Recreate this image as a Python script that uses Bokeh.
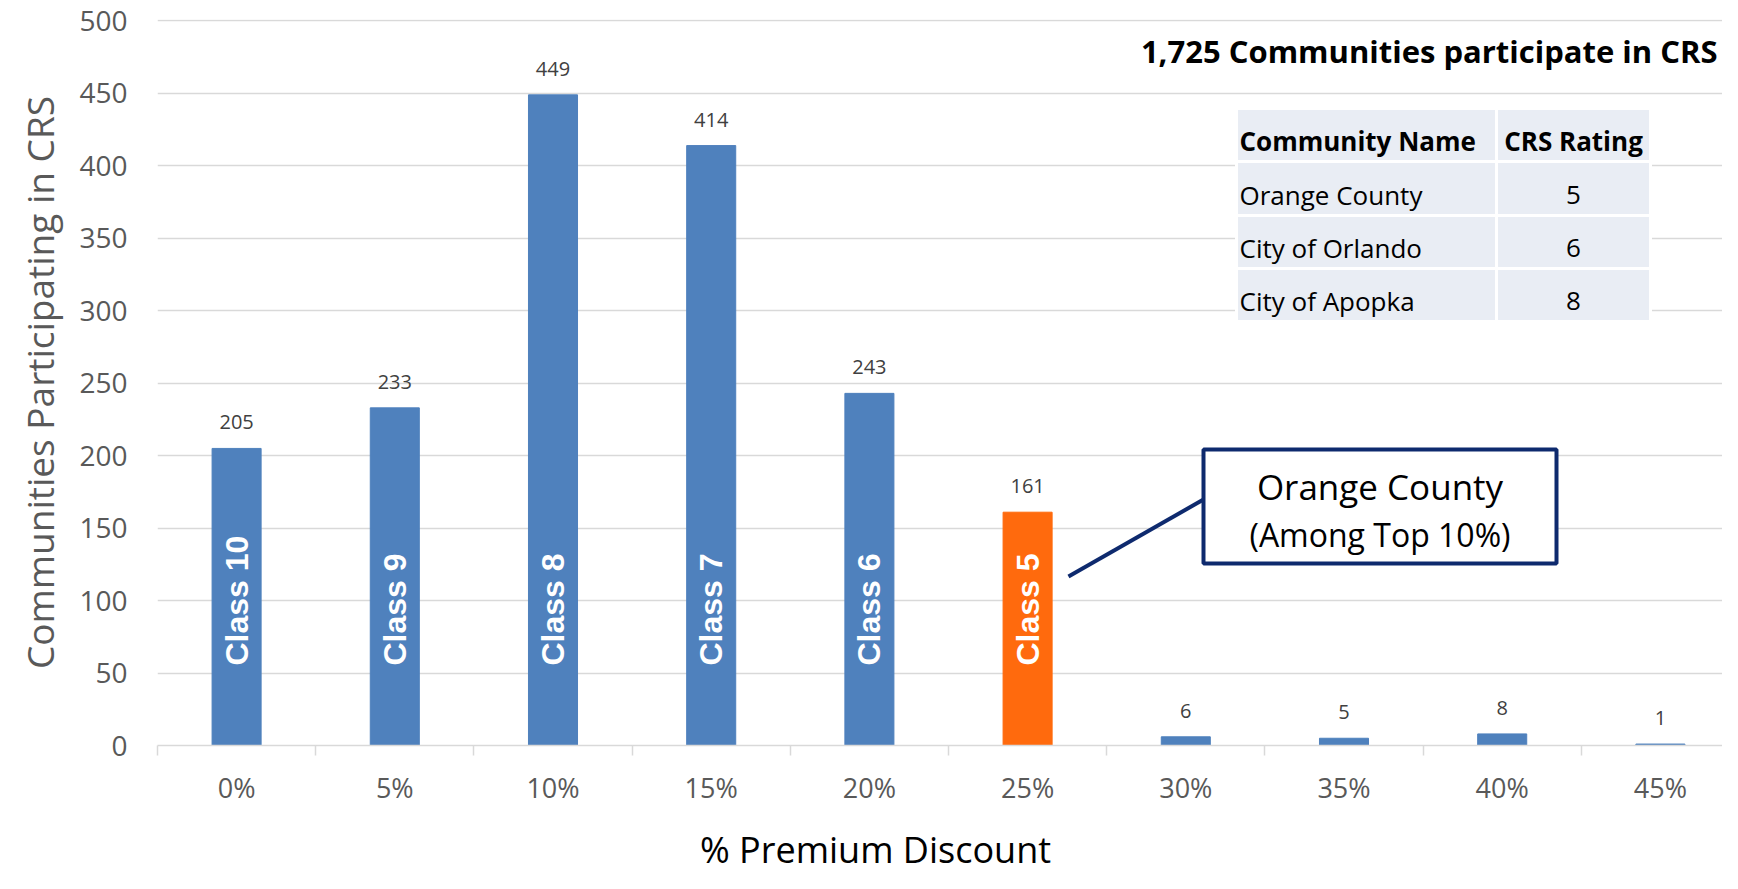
from bokeh.plotting import figure
from bokeh.layouts import column
from bokeh.models import FixedTicker, Label, Range1d, ColumnDataSource
from bokeh.core.properties import value
from bokeh.embed import file_html
from bokeh.resources import INLINE
import math

# ---------------- data ----------------
categories = ["0%", "5%", "10%", "15%", "20%", "25%", "30%", "35%", "40%", "45%"]
communities = [205, 233, 449, 414, 243, 161, 6, 5, 8, 1]
class_labels = ["Class 10", "Class 9", "Class 8", "Class 7", "Class 6", "Class 5"]
highlight_index = 5  # Orange County's class (Class 5, 25%)
y_ticks = [0, 50, 100, 150, 200, 250, 300, 350, 400, 450, 500]

table_header = ["Community Name", "CRS Rating"]
table_names = ["Orange County", "City of Orlando", "City of Apopka"]
table_ratings = ["5", "6", "8"]

title_text = "1,725 Communities participate in CRS"
callout_title = "Orange County"
callout_sub = "(Among Top 10%)"
x_title = "% Premium Discount"
y_title = "Communities Participating in CRS"

# ---------------- styles / layout ----------------
BLUE = "#4F81BD"
ORANGE = "#FF6A0D"
GRID = "#D9D9D9"
AXIS_TEXT = "#595959"
NAVY = "#0E2A6E"
TABLE_BG = "#E9EDF4"
FONT = "Open Sans"

W, H = 1722, 873
MAIN_H = 815                      # main chart figure height
FOOT_H = H - MAIN_H               # strip below that holds the x title
FRAME_L, FRAME_T, FRAME_BOTTOM_PX = 157, 19, 745
FRAME_B = MAIN_H - FRAME_BOTTOM_PX
PX_PER_CAT = 158.2
Y_END = 501
frame_w = W - FRAME_L
frame_h = FRAME_BOTTOM_PX - FRAME_T
X0 = -0.5
X1 = X0 + frame_w / PX_PER_CAT
TXT_SHIFT = 12                    # alphabetic-baseline correction (px)

# helpers converting layout pixel positions to data units
def px_x(px):
    return X0 + (px - FRAME_L) / PX_PER_CAT

def px_y(py):
    return (FRAME_BOTTOM_PX - py) / frame_h * Y_END

p = figure(width=W, height=MAIN_H, x_range=Range1d(X0, X1), y_range=Range1d(0, Y_END),
           output_backend="svg", toolbar_location=None,
           min_border_left=FRAME_L, min_border_right=0,
           min_border_top=FRAME_T, min_border_bottom=FRAME_B)
p.outline_line_color = None
p.background_fill_color = "white"
p.border_fill_color = "white"

# grid
p.xgrid.grid_line_color = None
p.ygrid.grid_line_color = GRID
p.ygrid.grid_line_width = 1.5
p.ygrid.ticker = FixedTicker(ticks=y_ticks)

# y axis
p.yaxis.ticker = FixedTicker(ticks=y_ticks)
p.yaxis.axis_line_color = None
p.yaxis.major_tick_line_color = None
p.yaxis.minor_tick_line_color = None
p.yaxis.major_tick_out = 0
p.yaxis.major_label_text_font = FONT
p.yaxis.major_label_text_font_size = "28px"
p.yaxis.major_label_text_color = AXIS_TEXT
p.yaxis.major_label_standoff = 30
p.yaxis.axis_label = y_title
p.yaxis.axis_label_text_font = FONT
p.yaxis.axis_label_text_font_size = "37px"
p.yaxis.axis_label_text_font_style = "normal"
p.yaxis.axis_label_text_color = AXIS_TEXT
p.yaxis.axis_label_standoff = 11

# x axis
idx = list(range(len(categories)))
p.xaxis.ticker = FixedTicker(ticks=idx, minor_ticks=[i - 0.5 for i in range(len(categories) + 1)])
p.xaxis.major_label_overrides = {i: c for i, c in zip(idx, categories)}
p.xaxis.axis_line_color = GRID
p.xaxis.axis_line_width = 1.5
p.xaxis.major_tick_line_color = None
p.xaxis.major_tick_out = 0
p.xaxis.major_tick_in = 0
p.xaxis.minor_tick_line_color = GRID
p.xaxis.minor_tick_line_width = 1.5
p.xaxis.minor_tick_out = 10
p.xaxis.minor_tick_in = 0
p.xaxis.major_label_text_font = FONT
p.xaxis.major_label_text_font_size = "27px"
p.xaxis.major_label_text_color = AXIS_TEXT
p.xaxis.major_label_standoff = 13

# bars
colors = [ORANGE if i == highlight_index else BLUE for i in idx]
src = ColumnDataSource(dict(x=idx, top=communities, color=colors,
                            lbl=[str(v) for v in communities]))
p.vbar(x="x", top="top", width=0.31, color="color", source=src)

# value labels above bars
p.text(x="x", y="top", text="lbl", source=src, text_align="center",
       text_baseline="middle", y_offset=-26, text_font=value(FONT),
       text_font_size="20px", text_color="#404040")

# class labels inside bars (rotated)
csrc = ColumnDataSource(dict(x=idx[:len(class_labels)], y=[0] * len(class_labels), t=class_labels))
p.text(x="x", y="y", text="t", source=csrc, angle=math.pi / 2, text_align="left",
       text_baseline="middle", y_offset=-80, text_font=value("Liberation Sans"),
       text_font_style="bold", text_font_size="32px", text_color="white")

# title inside plot, top right
p.add_layout(Label(x=px_x(1717), y=px_y(63 - TXT_SHIFT - 1), text=title_text, text_align="right",
                   text_baseline="alphabetic", text_font=FONT, text_font_style="bold",
                   text_font_size="31px", text_color="black"))

# table
t_left, t_split, t_right = px_x(1236), px_x(1496), px_x(1650)
row_edges_px = [108, 161, 215, 268, 321]
row_edges = [px_y(v) for v in row_edges_px]
tops = row_edges[:-1]
bottoms = row_edges[1:]
n_rows = len(tops)
p.quad(left=[t_left] * n_rows + [t_split] * n_rows,
       right=[t_split] * n_rows + [t_right] * n_rows,
       top=tops * 2, bottom=bottoms * 2,
       fill_color=TABLE_BG, line_color="white", line_width=3)
col1_text = [table_header[0]] + table_names
col2_text = [table_header[1]] + table_ratings
styles = ["bold"] + ["normal"] * len(table_names)
tsrc1 = ColumnDataSource(dict(x=[t_left] * n_rows, y=bottoms, t=col1_text, st=styles))
p.text(x="x", y="y", text="t", source=tsrc1, text_align="left", text_baseline="alphabetic",
       x_offset=3, y_offset=-9 - TXT_SHIFT, text_font=value(FONT), text_font_style="st",
       text_font_size="26px", text_color="black")
tsrc2 = ColumnDataSource(dict(x=[(t_split + t_right) / 2] * n_rows, y=bottoms, t=col2_text, st=styles))
p.text(x="x", y="y", text="t", source=tsrc2, text_align="center", text_baseline="alphabetic",
       y_offset=-9 - TXT_SHIFT, text_font=value(FONT), text_font_style="st",
       text_font_size="26px", text_color="black")

# callout box + leader line
b_left, b_right, b_top, b_bot = px_x(1203), px_x(1556), px_y(449), px_y(563)
p.segment(x0=[px_x(1068)], y0=[px_y(576)], x1=[b_left], y1=[px_y(499)],
          line_color=NAVY, line_width=4)
p.quad(left=[b_left], right=[b_right], top=[b_top], bottom=[b_bot],
       fill_color="white", line_color=NAVY, line_width=4)
cx = (b_left + b_right) / 2
p.add_layout(Label(x=cx, y=px_y(498 - TXT_SHIFT), text=callout_title, text_align="center",
                   text_baseline="alphabetic", text_font=FONT, text_font_size="35px",
                   text_color="black"))
p.add_layout(Label(x=cx, y=px_y(546 - TXT_SHIFT), text=callout_sub, text_align="center",
                   text_baseline="alphabetic", text_font=FONT, text_font_size="32px",
                   text_color="black"))

# footer strip with the x-axis title (centred on the page, as in the original)
foot = figure(width=W, height=FOOT_H, x_range=Range1d(0, 1), y_range=Range1d(0, 1),
              x_axis_type=None, y_axis_type=None, output_backend="svg",
              toolbar_location=None, min_border=0)
foot.outline_line_color = None
foot.grid.grid_line_color = None
# the column aligns this strip's frame with the main frame (left edge at FRAME_L)
foot.add_layout(Label(x=875 - FRAME_L, y=FOOT_H - (849 - MAIN_H), x_units="screen", y_units="screen",
                      text=x_title, text_align="center", text_baseline="middle",
                      text_font=FONT, text_font_size="36px", text_color="black"))

layout = column(p, foot, spacing=0)
open("out.html", "w").write(file_html(layout, INLINE))
